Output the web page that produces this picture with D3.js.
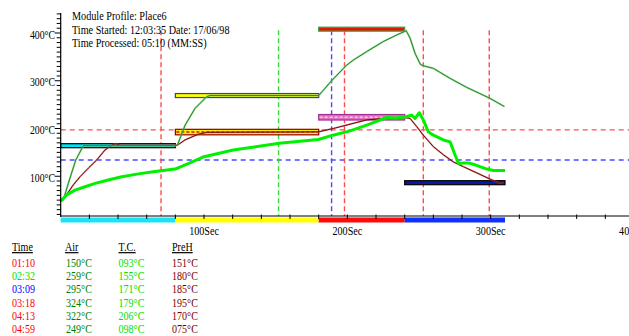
<!DOCTYPE html>
<html>
<head>
<meta charset="utf-8">
<script src="https://cdn.jsdelivr.net/npm/d3@7"></script>
<style>
  body { margin: 0; background: #fff; }
  svg { display: block; }
  text { font-family: "Liberation Serif", "Times New Roman", serif; }
</style>
</head>
<body>
<div id="chart"></div>
<script>
// readings (marker table)
const markTimes = ["01:10", "02:32", "03:09", "03:18", "04:13", "04:59"];
const markSec = [70, 152, 189, 198, 253, 299];
const tabAir = [150, 259, 295, 324, 322, 249];
const tabTC = [93, 155, 171, 179, 206, 98];
const tabPreH = [151, 180, 185, 195, 170, 75];

// profile curves, seconds / degrees C
const airSec = [0, 1.8, 5.3, 10.5, 15.8, 80, 81.4, 86.8, 93.7, 101.9, 104, 180, 189, 198.9, 204, 213.5, 225, 234.5, 239.8, 241, 243.8, 247.3, 251, 253.5, 260, 271.7, 283.3, 299.6, 309.6];
const airVal = [48, 50, 85, 134, 164, 164, 165, 207, 242, 266.6, 269, 269, 300, 331, 343, 361, 382, 396, 403, 405, 389, 357, 334, 331, 326, 305, 286, 263, 246];
const tcSec = [0, 4.2, 10, 17, 24, 33.2, 42.6, 54.2, 65.8, 79.8, 90.2, 100, 120.4, 152.5, 179.8, 190, 201.9, 213.5, 227.5, 234, 241.5, 244.9, 247.2, 250.2, 253, 256.5, 260, 267, 271.7, 275.1, 277.5, 282.1, 285.6, 289.1, 292.6, 297.3, 301.9, 310];
const tcVal = [48, 61, 71, 78, 85, 92, 99, 105, 110, 115, 128, 141, 155, 169, 177, 186, 195, 207, 223, 222, 225, 228, 221, 233, 218, 193, 186, 176, 172, 145, 127, 128, 127, 124, 120, 115, 112, 112];
const prehSec = [0, 2, 8.8, 13.5, 19.3, 25.1, 30.9, 35.6, 38, 42, 80, 81.4, 86.7, 96, 101.9, 180, 190.2, 201.9, 213.5, 225, 240.3, 243.8, 248.4, 253, 260, 267, 274, 281, 290.3, 299.6, 305.4, 309.4];
const prehVal = [48, 52, 82, 99, 117, 134, 155, 165, 168, 165, 165, 165, 176, 188, 192, 193, 200, 209, 218, 221, 223, 221, 204, 186, 162, 145, 130, 120, 107, 94, 86.5, 85];

// zones and set points
const zoneStart = [0, 80, 180, 240];
const zoneEnd = [80, 180, 240, 310];
const airSet = [164, 269, 408, 86.5];
const prehSet = [164, 192, 223, 86.5];
const limits = [197, 134];

const xTicks = [100, 200, 300, 400];
const yTicks = [100, 200, 300, 400];
const headerLines = ["Module Profile: Place6", "Time Started: 12:03:35  Date: 17/06/98", "Time Processed: 05:10 (MM:SS)"];
const tableHeads = ["Time", "Air", "T.C.", "PreH"];

const W = 629, H = 336;
const svg = d3.select("#chart").append("svg").attr("width", W).attr("height", H);
svg.append("rect").attr("width", W).attr("height", H).attr("fill", "#fff");

const x = d3.scaleLinear().domain([0, 400]).range([60.7, 634]);
const y = d3.scaleLinear().domain([0, 400]).range([224, 33]);
const axisY = 216;

function txt(g, px, py, s, size, color, sx, anchor) {
  return g.append("text")
    .attr("transform", `translate(${px},${py}) scale(${sx},1)`)
    .attr("font-size", size)
    .attr("fill", color)
    .attr("text-anchor", anchor || "start")
    .text(s);
}

// limit lines
const limitColors = ["#ff4d4d", "#4a4aff"];
limits.forEach((v, i) => {
  svg.append("line")
    .attr("x1", x(0)).attr("x2", W)
    .attr("y1", y(v)).attr("y2", y(v))
    .attr("stroke", limitColors[i]).attr("stroke-width", 1.3)
    .attr("stroke-dasharray", "5,4");
});

// marker lines
const markLine = ["#ff4d4d", "#33dd33", "#4a4aff", "#ff4d4d", "#ff4d4d", "#ff4d4d"];
markSec.forEach((s, i) => {
  svg.append("line")
    .attr("x1", x(s)).attr("x2", x(s))
    .attr("y1", y(406)).attr("y2", axisY)
    .attr("stroke", markLine[i]).attr("stroke-width", 1.4)
    .attr("stroke-dasharray", "5,3");
});

// set point bars
const airFill = ["#00e5f5", "#ffff00", "#dd1a00", "#0a1aa0"];
const airStroke = ["#000000", "#3040a0", "#40a040", "#000000"];
const prehFill = ["#00e5f5", "#ffee00", "#e070c0", "#0a1aa0"];
const prehStroke = ["#000000", "#900000", "#a03090", "#000000"];
zoneStart.forEach((s, i) => {
  const x0 = x(s), x1 = x(zoneEnd[i]);
  if (prehSet[i] !== airSet[i]) {
    svg.append("rect")
      .attr("x", x0).attr("y", y(prehSet[i]) - 3)
      .attr("width", x1 - x0).attr("height", 5.5)
      .attr("fill", prehFill[i]).attr("stroke", prehStroke[i]).attr("stroke-width", 1.2);
    svg.append("line")
      .attr("x1", x0 + 1).attr("x2", x1 - 1)
      .attr("y1", y(prehSet[i]) - 0.3).attr("y2", y(prehSet[i]) - 0.3)
      .attr("stroke", i === 1 ? "#d01010" : "#ffc0ee").attr("stroke-width", 1.5)
      .attr("stroke-dasharray", "3,2");
  }
  svg.append("rect")
    .attr("x", x0).attr("y", y(airSet[i]) - 2)
    .attr("width", x1 - x0).attr("height", 4)
    .attr("fill", airFill[i]).attr("stroke", airStroke[i]).attr("stroke-width", 1.2);
});

// curves
const line = d3.line().x(d => x(d[0])).y(d => y(d[1]));
const prehPts = prehSec.map((s, i) => [s, prehVal[i]]);
const airPts = airSec.map((s, i) => [s, airVal[i]]);
const tcPts = tcSec.map((s, i) => [s, tcVal[i]]);

svg.append("path").attr("d", line(prehPts)).attr("fill", "none")
  .attr("stroke", "#b06060").attr("stroke-width", 1.8).attr("stroke-opacity", 0.6);
svg.append("path").attr("d", line(prehPts)).attr("fill", "none")
  .attr("stroke", "#800000").attr("stroke-width", 1);
svg.append("path").attr("d", line(airPts)).attr("fill", "none")
  .attr("stroke", "#80c880").attr("stroke-width", 2).attr("stroke-opacity", 0.7);
svg.append("path").attr("d", line(airPts)).attr("fill", "none")
  .attr("stroke", "#1e8c1e").attr("stroke-width", 1);
svg.append("path").attr("d", line(tcPts)).attr("fill", "none")
  .attr("stroke", "#00f000").attr("stroke-width", 3).attr("stroke-linejoin", "round");

// zone colour band
const bandColors = ["#19e3f5", "#ffff00", "#ff0a0a", "#1030ff"];
zoneStart.forEach((s, i) => {
  svg.append("rect")
    .attr("x", x(s)).attr("y", axisY + 1.5)
    .attr("width", x(zoneEnd[i]) - x(s)).attr("height", 5)
    .attr("fill", bandColors[i]);
});

// x axis
svg.append("line").attr("x1", x(0)).attr("x2", W).attr("y1", axisY).attr("y2", axisY)
  .attr("stroke", "#000").attr("stroke-width", 1);
d3.range(20, 400, 20).forEach(s => {
  svg.append("line").attr("x1", x(s)).attr("x2", x(s)).attr("y1", axisY - 1.5).attr("y2", axisY + 3)
    .attr("stroke", "#000").attr("stroke-width", 1);
});
xTicks.forEach(s => txt(svg, x(s), 235, s + "Sec", 11.5, "#000", 0.88, "middle"));

// y axis
svg.append("line").attr("x1", x(0)).attr("x2", x(0)).attr("y1", 13).attr("y2", axisY + 1)
  .attr("stroke", "#000").attr("stroke-width", 1.2);
d3.range(20, 450, 10).forEach(v => {
  const major = v % 100 === 0;
  svg.append("line").attr("x1", x(0) - (major ? 6 : 4)).attr("x2", x(0))
    .attr("y1", y(v)).attr("y2", y(v))
    .attr("stroke", "#000").attr("stroke-width", 1);
});
yTicks.forEach(v => txt(svg, 55, y(v) + 5.5, v + "°C", 11.5, "#000", 0.85, "end"));

// header
headerLines.forEach((s, i) => txt(svg, 72, 20 + i * 13.5, s, 12, "#000", 0.85));

// table
const colX = [12, 65, 118.5, 172];
tableHeads.forEach((h, j) => {
  txt(svg, colX[j], 251, h, 12, "#000", 0.84).attr("text-decoration", "underline");
});
const timeColors = ["#ff0000", "#00e000", "#0000ff", "#ff0000", "#ff0000", "#ff0000"];
const deg = v => String(v).padStart(3, "0") + "°C";
markTimes.forEach((t, i) => {
  const ty = 266.5 + i * 13.35;
  txt(svg, colX[0], ty, t, 12, timeColors[i], 0.84);
  txt(svg, colX[1] + 1, ty, deg(tabAir[i]), 12, "#008000", 0.84);
  txt(svg, colX[2], ty, deg(tabTC[i]), 12, "#00e000", 0.84);
  txt(svg, colX[3], ty, deg(tabPreH[i]), 12, "#800000", 0.84);
});
</script>
</body>
</html>
